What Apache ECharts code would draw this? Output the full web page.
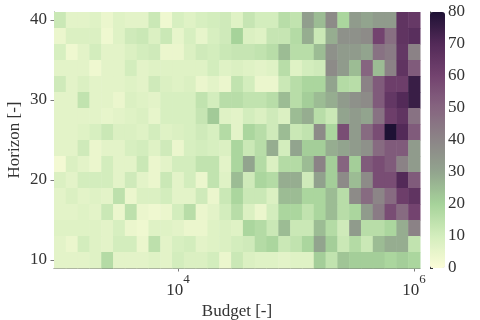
<!DOCTYPE html>
<html>
<head>
    <meta charset="utf-8">
    <title>Budget vs Horizon</title>
    <script src="https://cdn.jsdelivr.net/npm/echarts@6/dist/echarts.min.js"></script>
</head>
<body style="margin:0">
    <div id="main" style="width: 480px;height:320px;"></div>
    <script type="text/javascript">
        // log10 of budget, one column each
        var budgetExp = [3.0, 3.1, 3.2, 3.3, 3.4, 3.5, 3.6, 3.7, 3.8, 3.9, 4.0,
            4.1, 4.2, 4.3, 4.4, 4.5, 4.6, 4.7, 4.8, 4.9, 5.0,
            5.1, 5.2, 5.3, 5.4, 5.5, 5.6, 5.7, 5.8, 5.9, 6.0];
        // rows, top to bottom
        var horizons = [40, 38, 36, 34, 32, 30, 28, 26, 24, 22, 20, 18, 16, 14, 12, 10];
        var values = [
            [12,6,6,7,4,7,6,6,12,3,9,7,9,10,11, 7,13,10,10,16,14,32,25,38,19,33,30,33,33,66,64],
            [4,8,8,8,3,7,11,12,8,12,5,9,5,9,11, 20,8,7,13,13,17,28,12,28,36,36,38,60,47,66,68],
            [9,3,6,10,6,6,8,10,11,4,4,8,11,10,12, 13,13,14,16,25,16,16,25,36,33,33,30,46,43,65,41],
            [6,6,6,3,6,6,10,6,7,7,7,7,7,10,7, 8,7,6,7,16,7,10,11,38,33,25,50,25,41,66,53],
            [11,6,8,6,6,6,7,6,11,8,7,8,4,6,4, 14,10,4,4,12,16,19,19,30,17,16,41,53,62,62,75],
            [6,6,14,6,6,4,8,7,6,9,9,9,14,10,16, 16,14,14,16,25,16,21,25,28,33,36,38,53,65,70,75],
            [6,6,6,6,5,6,7,8,5,9,9,9,13,22,7, 6,10,8,11,8,25,28,16,12,30,33,30,46,62,66,46],
            [6,6,7,9,12,8,8,7,10,7,8,9,11,9,17, 6,19,16,11,25,12,14,38,19,57,33,48,57,80,70,53],
            [6,6,11,4,6,6,9,10,7,11,4,9,10,9,8, 19,12,16,28,10,30,21,21,28,30,33,36,48,53,53,33],
            [2,8,6,4,10,6,6,12,4,6,10,10,14,14,6, 19,30,17,8,17,17,25,41,21,50,21,53,57,53,41,33],
            [8,6,10,10,10,6,11,6,4,12,6,10,4,14,7, 25,11,19,17,28,28,11,31,21,38,25,38,57,57,70,53],
            [6,8,6,7,6,15,4,8,8,10,6,6,11,4,12, 19,12,12,8,25,25,19,19,25,16,38,48,40,48,62,66],
            [6,6,7,6,12,4,15,4,3,4,10,16,4,6,10, 16,8,4,10,19,19,14,19,25,16,19,33,43,57,48,60],
            [7,7,7,7,6,9,4,3,7,7,6,4,4,7,8, 7,19,17,12,25,12,12,25,17,11,33,16,16,19,28,41],
            [6,4,10,7,6,10,10,4,15,6,9,10,6,7,8, 10,11,17,19,12,14,19,30,21,12,17,12,25,28,28,14],
            [6,6,6,7,17,6,6,6,7,6,10,8,8,10,4, 12,8,7,7,6,7,7,21,14,23,21,21,21,19,21,19]
        ];
        var xTicks = [4, 6];
        var yTicks = [10, 20, 30, 40];
        var cmap = ['#fbfcd8', '#d3edbd', '#a6d39a', '#92a48e', '#8c8587', '#866580', '#73436f', '#532a58', '#1e1134'];

        var font = 'Liberation Serif';
        var txt = '#333333';
        var lineCol = '#7a7a7a';

        var cells = [];
        for (var r = 0; r < horizons.length; r++) {
            for (var c = 0; c < budgetExp.length; c++) {
                cells.push([budgetExp[c], horizons[r], values[r][c]]);
            }
        }

        function renderCell(params, api) {
            var x = api.value(0), y = api.value(1);
            var p0 = api.coord([x - 0.05, y + 1]);
            var p1 = api.coord([x + 0.05, y - 1]);
            return {
                type: 'rect',
                shape: { x: p0[0], y: p0[1], width: p1[0] - p0[0] + 0.5, height: p1[1] - p0[1] + 0.5 },
                style: { fill: api.visual('color') }
            };
        }

        var myChart = echarts.init(document.getElementById('main'));
        var option = {
            animation: false,
            textStyle: { fontFamily: font },
            grid: [
                { left: 54, right: 60, top: 12, bottom: 52, outerBoundsMode: 'none', containLabel: false },
                { left: 430, width: 15, top: 12, height: 256, outerBoundsMode: 'none', containLabel: false }
            ],
            xAxis: [{
                type: 'value',
                min: 2.95,
                max: 6.05,
                name: 'Budget [-]',
                nameLocation: 'middle',
                nameGap: 35,
                nameMoveOverlap: false,
                nameTextStyle: { fontFamily: font, fontSize: 17, color: txt },
                axisLine: { lineStyle: { color: lineCol } },
                axisTick: { customValues: xTicks, length: 3.5, lineStyle: { color: lineCol } },
                axisLabel: {
                    customValues: xTicks,
                    margin: 5,
                    formatter: function (v) { return '{b|10}{s|' + v + '}'; },
                    rich: {
                        b: { fontFamily: font, fontSize: 17, color: txt, verticalAlign: 'bottom', lineHeight: 26 },
                        s: { fontFamily: font, fontSize: 13, color: txt, verticalAlign: 'top', lineHeight: 26 }
                    }
                },
                splitLine: { show: false }
            }, {
                type: 'value', gridIndex: 1, show: false, min: 0, max: 1
            }],
            yAxis: [{
                type: 'value',
                min: 9,
                max: 41,
                name: 'Horizon [-]',
                nameLocation: 'middle',
                nameGap: 31,
                nameMoveOverlap: false,
                nameTextStyle: { fontFamily: font, fontSize: 17, color: txt },
                axisLine: { show: true, lineStyle: { color: lineCol } },
                axisTick: { show: true, customValues: yTicks, length: 3.5, lineStyle: { color: lineCol } },
                axisLabel: { customValues: yTicks, margin: 7, fontFamily: font, fontSize: 17, color: txt },
                splitLine: { show: false }
            }, {
                type: 'value',
                gridIndex: 1,
                position: 'right',
                min: 0,
                max: 80,
                interval: 10,
                axisLine: { show: true, lineStyle: { color: '#333' } },
                axisTick: { show: true, length: 3, lineStyle: { color: '#333' } },
                axisLabel: { margin: 3, fontFamily: font, fontSize: 17, color: txt },
                splitLine: { show: false }
            }],
            visualMap: {
                type: 'continuous',
                min: 0,
                max: 80,
                dimension: 2,
                seriesIndex: 0,
                calculable: false,
                hoverLink: false,
                left: 430,
                top: 12,
                padding: 0,
                itemWidth: 15,
                itemHeight: 256,
                text: null,
                showLabel: false,
                inRange: { color: cmap }
            },
            series: [{
                type: 'custom',
                renderItem: renderCell,
                xAxisIndex: 0,
                yAxisIndex: 0,
                encode: { x: 0, y: 1 },
                data: cells
            }]
        };
        myChart.setOption(option);
    </script>
</body>
</html>
